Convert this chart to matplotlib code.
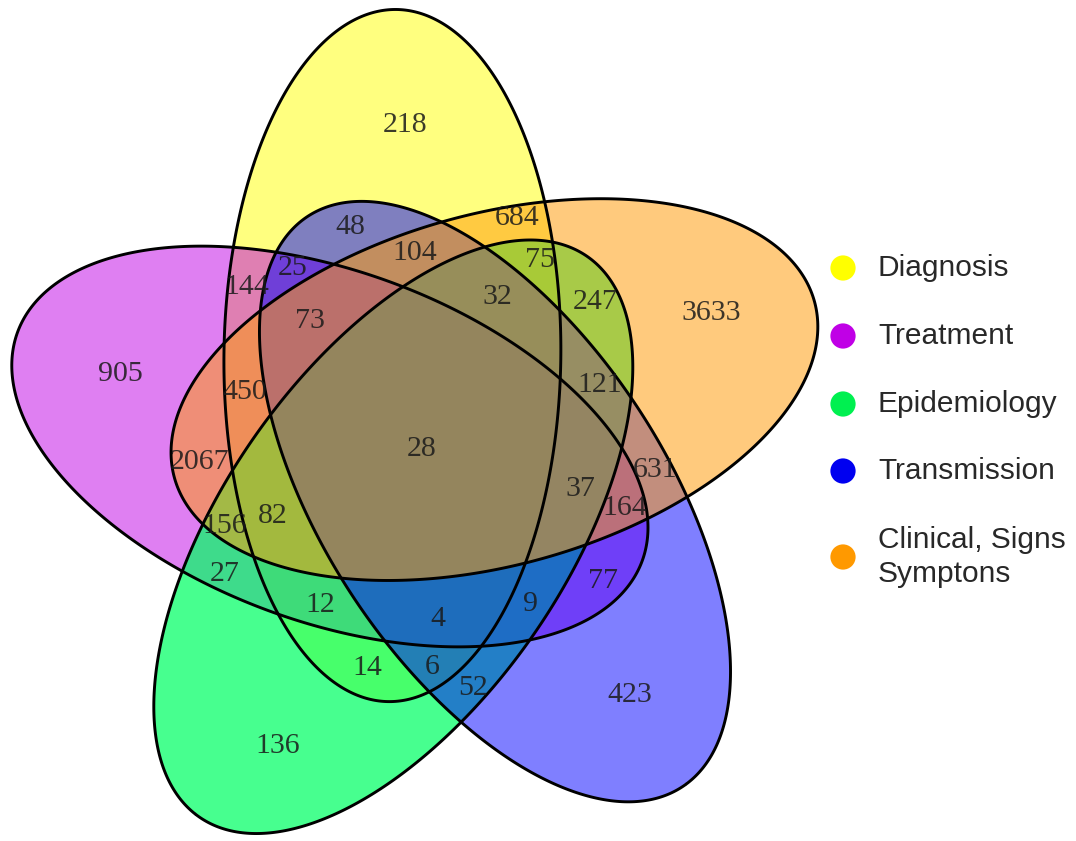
import numpy as np
import matplotlib
matplotlib.use("Agg")
import matplotlib.pyplot as plt
from matplotlib.patches import Polygon

# set names and colours (legend order)
set_names = ["Diagnosis", "Treatment", "Epidemiology", "Transmission", "Clinical, Signs\nSymptons"]
set_colors = ["#ffff00", "#c000e6", "#00ff64", "#0000ff", "#ff9c0a"]
legend_colors = ["#ffff00", "#c000e6", "#00f050", "#0000f0", "#ff9900"]
set_alpha = [0.5, 0.5, 0.72, 0.5, 0.53]

# region counts
region_counts = [218, 48, 684, 104, 75, 144, 25, 32, 247, 3633, 73, 905, 450, 121, 28,
                 2067, 631, 37, 164, 156, 82, 27, 12, 4, 9, 77, 14, 6, 52, 423, 136]
# label positions (pixel coords of the picture)
label_x = [405, 350, 517, 415, 540, 247, 293, 497, 595, 711, 310, 120, 245, 600, 422,
           200, 655, 580, 625, 225, 273, 225, 320, 438, 531, 603, 367, 432, 473, 630, 278]
label_y = [125, 227, 218, 253, 260, 287, 268, 297, 302, 313, 321, 374, 392, 385, 449,
           462, 470, 489, 508, 526, 516, 574, 605, 619, 604, 581, 668, 667, 688, 695, 746]

# ellipse layout: 5 identical ellipses rotated about a common centre,
# then slightly stretched (the picture is a bit taller than wide)
cx, cy = 421, 446
dist = 92.5
semi_a, semi_b = 336, 171
start_angle = 36.3          # centre direction of the Clinical ellipse
axis_offset = [-19, -19, -19, -19, -22]
ring_pos = [1, 2, 3, 4, 0]  # position of each set around the centre
sx, sy = 0.985, 1.03


def ellipse_outline(i):
    th = np.radians(start_angle + 72 * ring_pos[i])
    r = th + np.radians(axis_offset[i])
    t = np.linspace(0, 2 * np.pi, 500)
    mx = dist * np.cos(th) + semi_a * np.cos(t) * np.cos(r) - semi_b * np.sin(t) * np.sin(r)
    my = dist * np.sin(th) + semi_a * np.cos(t) * np.sin(r) + semi_b * np.sin(t) * np.cos(r)
    return np.column_stack([cx + sx * mx, cy - sy * my])


fig = plt.figure(figsize=(10.76, 8.41), dpi=100)
ax = fig.add_axes([0, 0, 1, 1])
ax.set_xlim(0, 1076)
ax.set_ylim(841, 0)
ax.axis("off")

outlines = [ellipse_outline(i) for i in range(5)]
for i, pts in enumerate(outlines):
    ax.add_patch(Polygon(pts, closed=True, facecolor=set_colors[i],
                         alpha=set_alpha[i], edgecolor="none"))
for pts in outlines:
    ax.add_patch(Polygon(pts, closed=True, facecolor="none",
                         edgecolor="black", linewidth=2.1))

for n, x, y in zip(region_counts, label_x, label_y):
    ax.text(x, y, str(n), ha="center", va="center", fontsize=21.5,
            family="Liberation Serif", color="#1a1a1a", alpha=0.85)

# legend
leg_y = [268, 336, 404, 471, 557]
for name, col, y in zip(set_names, legend_colors, leg_y):
    ax.scatter([843], [y], s=330, color=col, edgecolor="none")
    ax.text(878, y, name, ha="left", va="center", fontsize=21.5,
            family="Liberation Sans", color="#282828", linespacing=1.25)

fig.savefig("out.png", dpi=100, facecolor="white")
